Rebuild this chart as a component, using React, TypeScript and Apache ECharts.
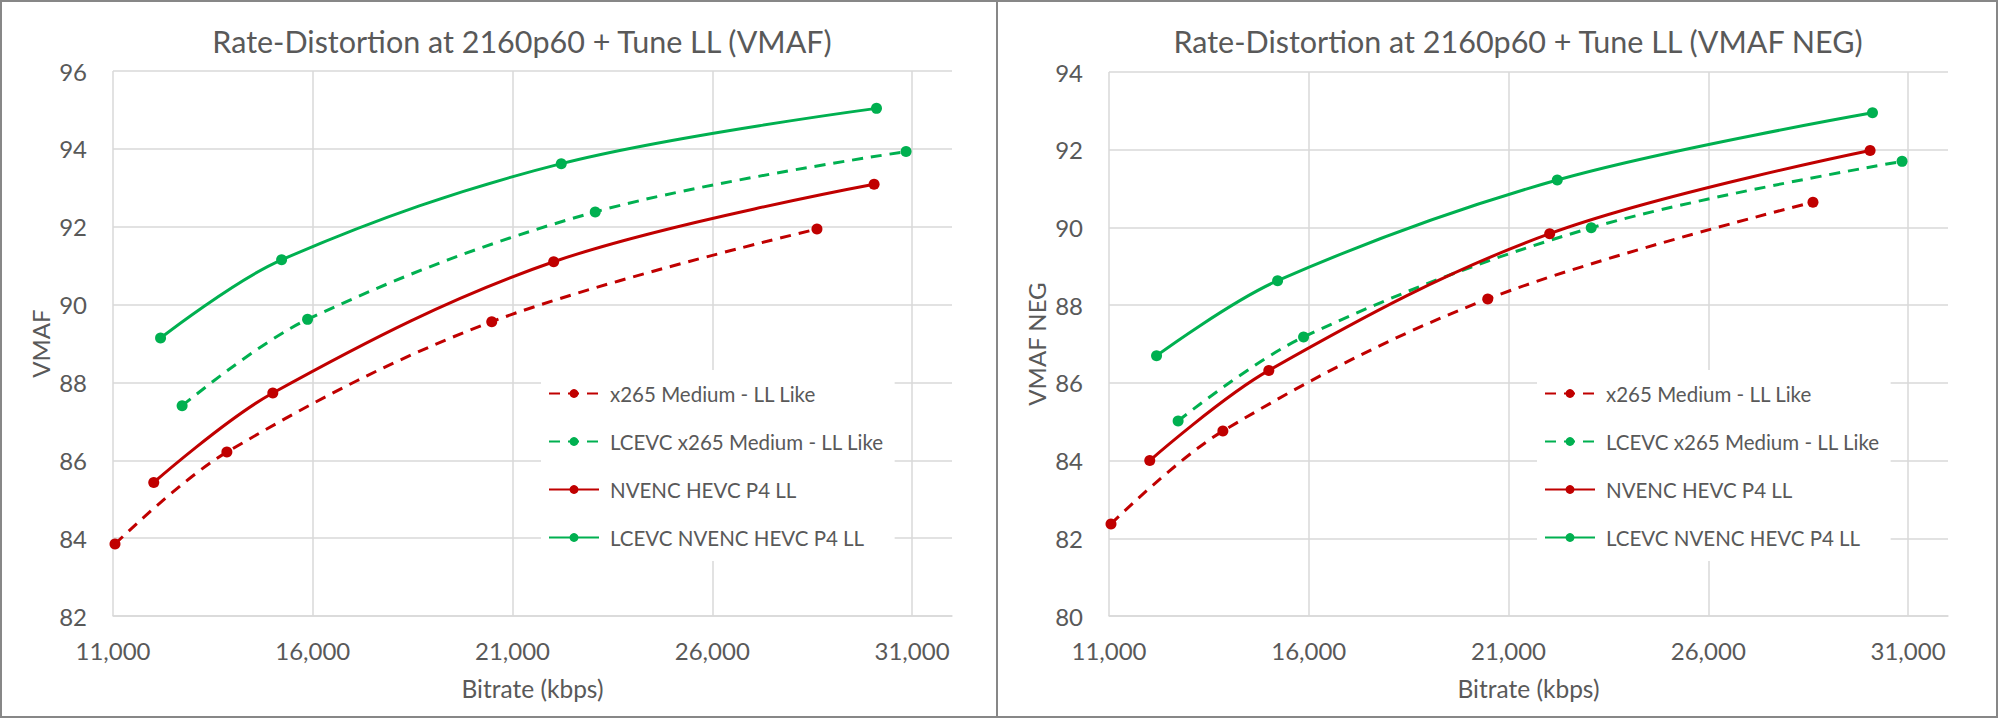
import React, { useEffect, useRef } from "react";
import * as echarts from "echarts";

// ---- data ----
const seriesNames = [
  "x265 Medium - LL Like",
  "LCEVC x265 Medium - LL Like",
  "NVENC HEVC P4 LL",
  "LCEVC NVENC HEVC P4 LL",
];

// bitrates (kbps) per encoder
const x265Bitrate = [11050, 13850, 20480, 28620];
const lcevcX265Bitrate = [12730, 15870, 23070, 30850];
const nvencBitrate = [12020, 15000, 22030, 30050];
const lcevcNvencBitrate = [12190, 15220, 22220, 30110];

// VMAF
const x265Vmaf = [83.85, 86.21, 89.56, 91.94];
const lcevcX265Vmaf = [87.4, 89.62, 92.38, 93.93];
const nvencVmaf = [85.43, 87.73, 91.1, 93.09];
const lcevcNvencVmaf = [89.14, 91.15, 93.62, 95.04];

// VMAF NEG
const x265Neg = [82.37, 84.76, 88.16, 90.65];
const lcevcX265Neg = [85.02, 87.18, 89.99, 91.7];
const nvencNeg = [84.0, 86.32, 89.84, 91.98];
const lcevcNvencNeg = [86.7, 88.63, 91.22, 92.95];

const xTicks = [11000, 16000, 21000, 26000, 31000];
const chartTitles = [
  "Rate-Distortion at 2160p60 + Tune LL (VMAF)",
  "Rate-Distortion at 2160p60 + Tune LL (VMAF NEG)",
];
const yNames = ["VMAF", "VMAF NEG"];
const xName = "Bitrate (kbps)";

const RED = "#C00000";
const GREEN = "#00B050";
const TXT = "#595959";
const GRID = "#D9D9D9";
const FONT = "Lato, 'Noto Sans', sans-serif";

const zip = (xs: number[], ys: number[]) => xs.map((x, i) => [x, ys[i]]);

export default function App() {
  const ref = useRef<HTMLDivElement>(null);
  useEffect(() => {
    document.body.style.margin = "0";
    if (!ref.current) return;
    const chart = echarts.init(ref.current, undefined, { renderer: "svg" });

    const offsets = [0, 996];
    const bitrates = [x265Bitrate, lcevcX265Bitrate, nvencBitrate, lcevcNvencBitrate];
    const vmafSets = [
      [x265Vmaf, lcevcX265Vmaf, nvencVmaf, lcevcNvencVmaf],
      [x265Neg, lcevcX265Neg, nvencNeg, lcevcNvencNeg],
    ];
    const colors = [RED, GREEN, RED, GREEN];
    const dashed = [true, true, false, false];
    const yMin = [82, 80];
    const yMax = [96, 94];

    const series: any[] = [];
    for (let c = 0; c < 2; c++) {
      for (let s = 0; s < 4; s++) {
        series.push({
          name: seriesNames[s],
          type: "line",
          xAxisIndex: c,
          yAxisIndex: c,
          data: zip(bitrates[s], vmafSets[c][s]),
          smooth: 0.35,
          symbol: "circle",
          symbolSize: 11,
          itemStyle: { color: colors[s], borderWidth: 0 },
          lineStyle: {
            color: colors[s],
            width: 3,
            type: dashed[s] ? [11, 8] : "solid",
          },
          z: 3,
        });
      }
    }

    const option: any = {
      animation: false,
      backgroundColor: "#fff",
      title: chartTitles.map((t, i) => ({
        text: t,
        left: 522 + offsets[i],
        top: 25,
        padding: 0,
        textAlign: "center",
        textStyle: { fontFamily: FONT, fontSize: 30.5, fontWeight: "normal", color: TXT },
      })),
      legend: [0, 1].map((i) => ({
        orient: "vertical",
        left: 541 + offsets[i],
        top: 370,
        padding: [13, 11, 13, 7],
        backgroundColor: "#fff",
        itemWidth: 50,
        itemHeight: 11,
        itemGap: 27,
        selectedMode: false,
        data: seriesNames,
        textStyle: { fontFamily: FONT, fontSize: 20.5, color: TXT, padding: [0, 0, 0, 6] },
        z: 5,
      })),
      grid: [
        { left: 113, top: 71, width: 839, height: 545 },
        { left: 1109, top: 72, width: 839, height: 544 },
      ],
      xAxis: [0, 1].map((i) => ({
        type: "value",
        gridIndex: i,
        min: 11000,
        max: 32000,
        interval: 1000,
        name: xName,
        nameLocation: "middle",
        nameGap: 60,
        nameTextStyle: { fontFamily: FONT, fontSize: 24.5, color: TXT },
        axisLine: { show: true, lineStyle: { color: GRID, width: 1.5 } },
        axisTick: { show: false, customValues: xTicks },
        axisLabel: {
          customValues: xTicks,
          margin: 22,
          fontFamily: FONT,
          fontSize: 24,
          color: TXT,
          formatter: (v: number) => v.toLocaleString("en-US"),
        },
        splitLine: { show: true, lineStyle: { color: GRID, width: 1.5 } },
      })),
      yAxis: [0, 1].map((i) => ({
        type: "value",
        gridIndex: i,
        min: yMin[i],
        max: yMax[i],
        interval: 2,
        name: yNames[i],
        nameLocation: "middle",
        nameRotate: 90,
        nameGap: 61,
        nameTextStyle: { fontFamily: FONT, fontSize: 24, color: TXT },
        axisLine: { show: false },
        axisTick: { show: false },
        axisLabel: { margin: 26, fontFamily: FONT, fontSize: 24, color: TXT },
        splitLine: { show: true, lineStyle: { color: GRID, width: 1.5 } },
      })),
      graphic: [
        {
          type: "rect",
          shape: { x: 1, y: 1, width: 996, height: 716 },
          style: { fill: "none", stroke: "#878787", lineWidth: 2 },
          silent: true,
          z: 10,
        },
        {
          type: "rect",
          shape: { x: 997, y: 1, width: 1000, height: 716 },
          style: { fill: "none", stroke: "#878787", lineWidth: 2 },
          silent: true,
          z: 10,
        },
      ],
      series,
    };

    chart.setOption(option);
    return () => chart.dispose();
  }, []);

  return <div ref={ref} style={{ width: 1999, height: 720 }} />;
}
